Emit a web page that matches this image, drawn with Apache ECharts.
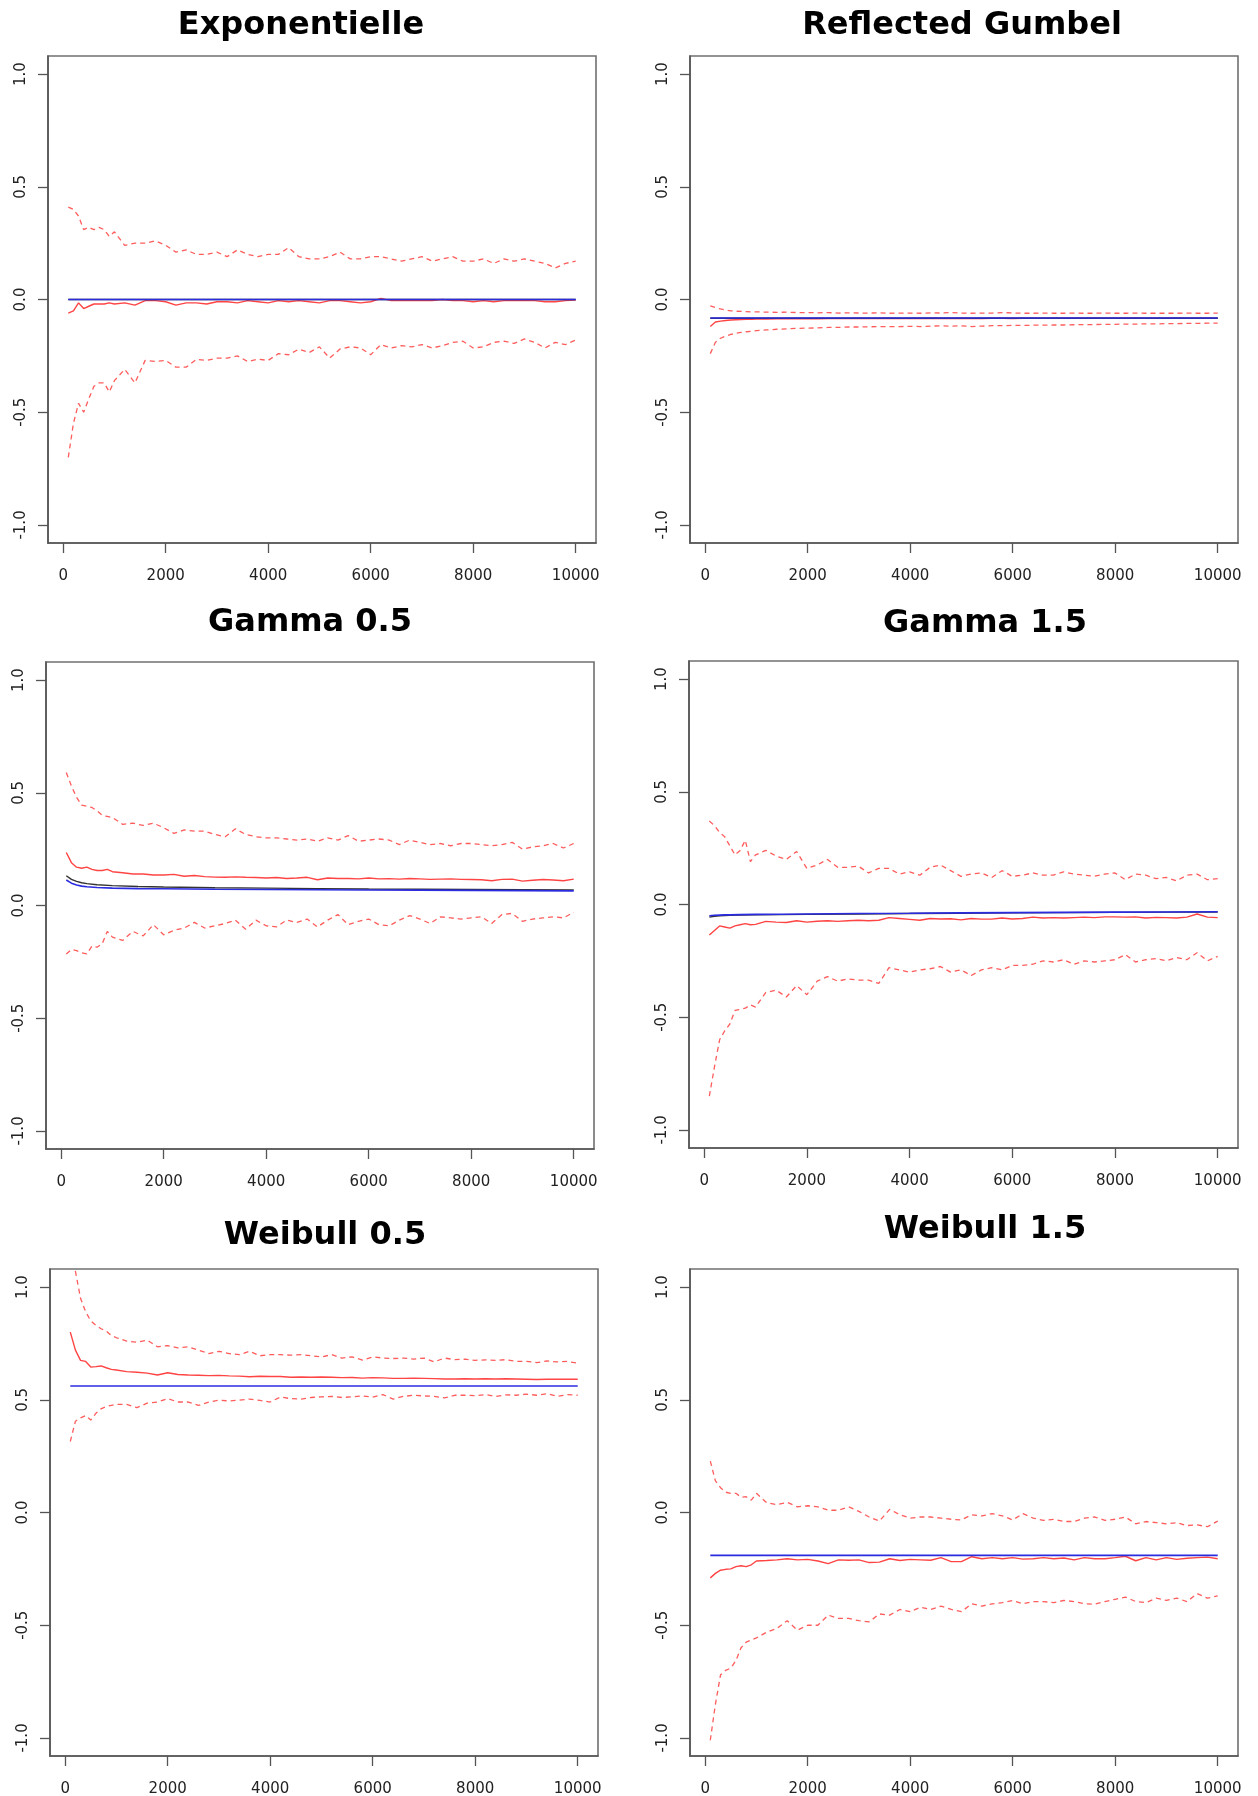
<!DOCTYPE html>
<html><head><meta charset="utf-8">
<script src="https://cdn.jsdelivr.net/npm/echarts@6/dist/echarts.min.js"></script>
<style>html,body{margin:0;padding:0;background:#fff}#c{width:1258px;height:1796px}</style>
</head><body><div id="c"></div>
<script>
// ---------- data ----------
const xs = [100,200,300,400,500,600,700,800,900,1000,
 1200,1400,1600,1800,2000,2200,2400,2600,2800,3000,
 3200,3400,3600,3800,4000,4200,4400,4600,4800,5000,
 5200,5400,5600,5800,6000,6200,6400,6600,6800,7000,
 7200,7400,7600,7800,8000,8200,8400,8600,8800,9000,
 9200,9400,9600,9800,10000];
const xEnds = [100, 10000];
const curveX = [100,200,300,400,500,700,1000,1500,2000,3000,4000,5000,6000,7000,8000,9000,10000];
const xTicks = [0,2000,4000,6000,8000,10000];
const yTicks = [-1,-0.5,0,0.5,1];

const panelTitles = ['Exponentielle','Reflected Gumbel','Gamma 0.5','Gamma 1.5','Weibull 0.5','Weibull 1.5'];

// Exponentielle
const expUpper = [0.41,0.40,0.37,0.31,0.32,0.31,0.32,0.31,0.28,0.30,
 0.24,0.25,0.25,0.26,0.24,0.21,0.22,0.20,0.20,0.21,
 0.19,0.22,0.20,0.19,0.20,0.20,0.23,0.19,0.18,0.18,
 0.19,0.21,0.18,0.18,0.19,0.19,0.18,0.17,0.18,0.19,
 0.17,0.18,0.19,0.17,0.17,0.18,0.16,0.18,0.17,0.18,
 0.17,0.16,0.14,0.16,0.17];
const expMean = [-0.06,-0.05,-0.015,-0.04,-0.03,-0.02,-0.02,-0.02,-0.015,-0.02,
 -0.015,-0.025,-0.005,-0.005,-0.01,-0.025,-0.015,-0.015,-0.02,-0.01,
 -0.01,-0.015,-0.005,-0.01,-0.015,-0.005,-0.01,-0.005,-0.01,-0.015,
 -0.005,-0.005,-0.01,-0.015,-0.01,0.005,-0.005,-0.005,-0.005,-0.005,
 -0.005,0,-0.005,-0.005,-0.01,-0.005,-0.01,-0.005,-0.005,-0.005,
 -0.005,-0.01,-0.01,-0.005,-0.002];
const expLower = [-0.70,-0.55,-0.46,-0.50,-0.44,-0.385,-0.37,-0.37,-0.41,-0.36,
 -0.31,-0.37,-0.27,-0.275,-0.27,-0.30,-0.30,-0.265,-0.27,-0.26,
 -0.26,-0.25,-0.275,-0.265,-0.27,-0.24,-0.245,-0.22,-0.235,-0.21,
 -0.26,-0.22,-0.21,-0.215,-0.245,-0.20,-0.215,-0.205,-0.21,-0.20,
 -0.215,-0.205,-0.19,-0.185,-0.215,-0.21,-0.19,-0.185,-0.195,-0.175,
 -0.19,-0.215,-0.19,-0.20,-0.18];
const expTheo = [0, 0];
const expBlack = [0, 0];

// Reflected Gumbel
const gumUpper = [-0.028,-0.036,-0.042,-0.047,-0.05,-0.052,-0.053,-0.054,-0.055,-0.055,
 -0.056,-0.057,-0.056,-0.058,-0.058,-0.059,-0.058,-0.06,-0.059,-0.06,
 -0.06,-0.059,-0.061,-0.06,-0.06,-0.061,-0.059,-0.06,-0.058,-0.06,
 -0.061,-0.06,-0.06,-0.058,-0.06,-0.061,-0.061,-0.06,-0.061,-0.061,
 -0.06,-0.061,-0.061,-0.06,-0.061,-0.061,-0.06,-0.061,-0.061,-0.061,
 -0.061,-0.06,-0.061,-0.061,-0.06];
const gumMean = [-0.12,-0.10,-0.096,-0.093,-0.091,-0.09,-0.089,-0.088,-0.088,-0.087,
 -0.087,-0.086,-0.086,-0.086,-0.085,-0.086,-0.085,-0.085,-0.085,-0.084,
 -0.085,-0.084,-0.084,-0.085,-0.084,-0.084,-0.083,-0.084,-0.084,-0.083,
 -0.084,-0.084,-0.083,-0.083,-0.084,-0.083,-0.083,-0.083,-0.083,-0.083,
 -0.083,-0.083,-0.082,-0.083,-0.083,-0.083,-0.082,-0.083,-0.083,-0.083,
 -0.082,-0.083,-0.083,-0.083,-0.083];
const gumLower = [-0.24,-0.19,-0.172,-0.162,-0.155,-0.15,-0.146,-0.143,-0.141,-0.138,
 -0.135,-0.132,-0.13,-0.128,-0.127,-0.126,-0.124,-0.124,-0.122,-0.122,
 -0.121,-0.12,-0.12,-0.12,-0.119,-0.12,-0.118,-0.117,-0.118,-0.117,
 -0.12,-0.118,-0.116,-0.116,-0.115,-0.115,-0.114,-0.114,-0.113,-0.113,
 -0.112,-0.111,-0.111,-0.11,-0.11,-0.109,-0.109,-0.108,-0.108,-0.107,
 -0.107,-0.106,-0.106,-0.105,-0.105];
const gumTheo = [-0.082, -0.082];
const gumBlack = [-0.083, -0.083];

// Gamma 0.5
const g05Upper = [0.59,0.53,0.48,0.445,0.44,0.435,0.42,0.40,0.395,0.39,
 0.36,0.365,0.355,0.365,0.345,0.32,0.335,0.33,0.33,0.315,
 0.305,0.34,0.315,0.305,0.30,0.30,0.295,0.29,0.295,0.285,
 0.30,0.29,0.31,0.285,0.29,0.295,0.29,0.27,0.29,0.28,
 0.27,0.275,0.265,0.275,0.275,0.27,0.265,0.27,0.28,0.25,
 0.26,0.265,0.275,0.255,0.275];
const g05Mean = [0.235,0.19,0.17,0.165,0.17,0.16,0.155,0.155,0.16,0.15,
 0.145,0.14,0.14,0.135,0.135,0.138,0.13,0.133,0.128,0.126,
 0.125,0.127,0.125,0.124,0.122,0.124,0.12,0.122,0.125,0.114,
 0.122,0.12,0.12,0.118,0.122,0.118,0.119,0.117,0.12,0.118,
 0.116,0.117,0.118,0.116,0.115,0.114,0.11,0.116,0.117,0.108,
 0.112,0.115,0.113,0.11,0.117];
const g05Lower = [-0.215,-0.195,-0.20,-0.21,-0.215,-0.18,-0.185,-0.17,-0.115,-0.14,
 -0.155,-0.115,-0.135,-0.085,-0.13,-0.11,-0.10,-0.075,-0.10,-0.09,
 -0.08,-0.065,-0.105,-0.065,-0.09,-0.095,-0.065,-0.075,-0.06,-0.095,
 -0.065,-0.04,-0.085,-0.07,-0.06,-0.085,-0.09,-0.065,-0.045,-0.06,
 -0.08,-0.05,-0.055,-0.06,-0.055,-0.05,-0.08,-0.04,-0.035,-0.07,
 -0.06,-0.055,-0.05,-0.055,-0.03];
const g05Theo = [0.113,0.099,0.091,0.086,0.083,0.080,0.077,0.075,0.074,0.072,0.071,0.070,0.069,0.068,0.067,0.066,0.065];
const g05Black = [0.132,0.116,0.107,0.101,0.097,0.092,0.088,0.084,0.082,0.079,0.077,0.075,0.073,0.072,0.071,0.070,0.069];

// Gamma 1.5
const g15Upper = [0.37,0.35,0.32,0.30,0.26,0.22,0.24,0.285,0.19,0.22,
 0.24,0.215,0.20,0.235,0.16,0.175,0.20,0.165,0.165,0.17,
 0.14,0.16,0.16,0.135,0.145,0.13,0.165,0.175,0.15,0.125,
 0.135,0.14,0.12,0.15,0.125,0.13,0.14,0.13,0.13,0.145,
 0.135,0.13,0.125,0.135,0.14,0.11,0.135,0.13,0.115,0.12,
 0.105,0.13,0.135,0.11,0.115];
const g15Mean = [-0.135,-0.115,-0.095,-0.10,-0.105,-0.095,-0.09,-0.085,-0.09,-0.088,
 -0.075,-0.078,-0.08,-0.072,-0.078,-0.074,-0.072,-0.075,-0.072,-0.07,
 -0.072,-0.07,-0.058,-0.062,-0.066,-0.07,-0.062,-0.064,-0.063,-0.068,
 -0.062,-0.065,-0.065,-0.06,-0.064,-0.062,-0.056,-0.06,-0.058,-0.06,
 -0.058,-0.056,-0.058,-0.055,-0.055,-0.056,-0.055,-0.06,-0.057,-0.058,
 -0.06,-0.056,-0.042,-0.056,-0.058];
const g15Lower = [-0.85,-0.72,-0.60,-0.56,-0.53,-0.47,-0.465,-0.46,-0.445,-0.455,
 -0.39,-0.38,-0.41,-0.36,-0.40,-0.34,-0.32,-0.34,-0.33,-0.335,
 -0.335,-0.35,-0.28,-0.29,-0.30,-0.29,-0.285,-0.275,-0.30,-0.29,
 -0.315,-0.29,-0.28,-0.29,-0.27,-0.27,-0.265,-0.25,-0.255,-0.245,
 -0.265,-0.25,-0.255,-0.25,-0.245,-0.222,-0.255,-0.245,-0.24,-0.25,
 -0.235,-0.245,-0.214,-0.25,-0.23];
const g15Theo = [-0.050,-0.048,-0.047,-0.046,-0.046,-0.045,-0.044,-0.043,-0.042,-0.040,-0.039,-0.037,-0.036,-0.035,-0.034,-0.033,-0.032];
const g15Black = [-0.056,-0.052,-0.050,-0.049,-0.048,-0.047,-0.046,-0.045,-0.044,-0.042,-0.040,-0.039,-0.037,-0.036,-0.035,-0.034,-0.033];

// Weibull 0.5
const w05Upper = [1.35,1.07,0.95,0.89,0.85,0.83,0.815,0.805,0.785,0.775,
 0.76,0.755,0.765,0.735,0.74,0.73,0.735,0.72,0.705,0.715,
 0.705,0.70,0.715,0.695,0.70,0.70,0.698,0.70,0.695,0.69,
 0.70,0.685,0.69,0.676,0.69,0.685,0.683,0.685,0.68,0.685,
 0.668,0.685,0.678,0.68,0.675,0.677,0.675,0.678,0.67,0.67,
 0.665,0.672,0.668,0.67,0.662];
const w05Mean = [0.80,0.72,0.675,0.67,0.645,0.647,0.65,0.642,0.635,0.632,
 0.625,0.622,0.618,0.61,0.62,0.612,0.61,0.609,0.607,0.608,
 0.606,0.605,0.602,0.604,0.603,0.603,0.60,0.601,0.60,0.601,
 0.60,0.598,0.599,0.596,0.598,0.597,0.595,0.595,0.596,0.595,
 0.594,0.592,0.592,0.593,0.592,0.593,0.592,0.593,0.592,0.591,
 0.59,0.591,0.591,0.591,0.591];
const w05Lower = [0.315,0.405,0.42,0.43,0.41,0.44,0.46,0.47,0.475,0.48,
 0.48,0.465,0.485,0.49,0.505,0.49,0.49,0.475,0.49,0.498,
 0.495,0.498,0.503,0.497,0.49,0.512,0.505,0.503,0.51,0.513,
 0.515,0.51,0.513,0.517,0.512,0.523,0.503,0.515,0.52,0.517,
 0.515,0.508,0.52,0.52,0.518,0.523,0.515,0.522,0.52,0.525,
 0.52,0.527,0.515,0.523,0.52];
const w05Theo = [0.561, 0.561];

// Weibull 1.5
const w15Upper = [0.228,0.14,0.11,0.09,0.085,0.085,0.068,0.07,0.055,0.085,
 0.043,0.035,0.045,0.025,0.03,0.025,0.01,0.01,0.025,0.005,
 -0.02,-0.038,0.014,-0.01,-0.025,-0.02,-0.02,-0.025,-0.03,-0.033,
 -0.01,-0.015,-0.005,-0.015,-0.033,-0.005,-0.025,-0.035,-0.03,-0.04,
 -0.04,-0.025,-0.02,-0.035,-0.03,-0.02,-0.05,-0.04,-0.045,-0.05,
 -0.045,-0.058,-0.055,-0.063,-0.038];
const w15Mean = [-0.29,-0.27,-0.256,-0.252,-0.25,-0.24,-0.236,-0.24,-0.232,-0.215,
 -0.213,-0.21,-0.205,-0.21,-0.208,-0.215,-0.227,-0.21,-0.212,-0.21,
 -0.222,-0.22,-0.205,-0.213,-0.208,-0.21,-0.212,-0.20,-0.218,-0.218,
 -0.196,-0.205,-0.20,-0.205,-0.20,-0.207,-0.205,-0.20,-0.205,-0.202,
 -0.21,-0.20,-0.205,-0.205,-0.20,-0.194,-0.214,-0.20,-0.21,-0.20,
 -0.208,-0.203,-0.20,-0.198,-0.205];
const w15Lower = [-1.01,-0.85,-0.72,-0.70,-0.69,-0.657,-0.60,-0.575,-0.565,-0.556,
 -0.531,-0.514,-0.48,-0.522,-0.50,-0.50,-0.455,-0.47,-0.47,-0.48,
 -0.485,-0.45,-0.455,-0.43,-0.44,-0.42,-0.43,-0.415,-0.43,-0.44,
 -0.405,-0.415,-0.405,-0.40,-0.39,-0.405,-0.395,-0.395,-0.40,-0.39,
 -0.395,-0.405,-0.407,-0.395,-0.385,-0.375,-0.395,-0.40,-0.38,-0.39,
 -0.38,-0.395,-0.36,-0.38,-0.37];
const w15Theo = [-0.19, -0.19];

// ---------- layout (positions / styles only) ----------
const layout = [
  {titleX:301, titleTop:10,   grid:[48,56,548,487]},
  {titleX:962, titleTop:10,   grid:[690,56,548,487]},
  {titleX:310, titleTop:607,  grid:[46,662,548,487]},
  {titleX:985, titleTop:608,  grid:[689,661,549,487]},
  {titleX:325, titleTop:1220, grid:[50,1269,548,487]},
  {titleX:985, titleTop:1214, grid:[690,1269,548,487]}
];

const panelData = [
  {upper:expUpper, mean:expMean, lower:expLower, theoX:xEnds, theo:expTheo, blackX:xEnds, black:expBlack},
  {upper:gumUpper, mean:gumMean, lower:gumLower, theoX:xEnds, theo:gumTheo, blackX:xEnds, black:gumBlack},
  {upper:g05Upper, mean:g05Mean, lower:g05Lower, theoX:curveX, theo:g05Theo, blackX:curveX, black:g05Black},
  {upper:g15Upper, mean:g15Mean, lower:g15Lower, theoX:curveX, theo:g15Theo, blackX:curveX, black:g15Black},
  {upper:w05Upper, mean:w05Mean, lower:w05Lower, theoX:xEnds, theo:w05Theo},
  {upper:w15Upper, mean:w15Mean, lower:w15Lower, theoX:xEnds, theo:w15Theo}
];

const pairs = (xv, yv) => xv.map((x, i) => [x, yv[i]]);
const FONT = 'DejaVu Sans';

const grids = [], xAxes = [], yAxes = [], series = [], titles = [];
layout.forEach((L, i) => {
  titles.push({
    text: panelTitles[i], left: L.titleX, top: L.titleTop, textAlign: 'center', padding: 0,
    textStyle: {fontFamily: FONT, fontWeight: 'bold', fontSize: 32, color: '#000'}
  });
  grids.push({
    left: L.grid[0], top: L.grid[1], width: L.grid[2], height: L.grid[3],
    show: true, borderColor: '#707070', borderWidth: 1.6, backgroundColor: 'transparent',
    containLabel: false, outerBoundsMode: 'none'
  });
  xAxes.push({
    type: 'value', gridIndex: i, min: -296, max: 10396,
    axisLine: {show: true, onZero: false, lineStyle: {color: '#555', width: 1.6}},
    axisTick: {show: true, length: 10, customValues: xTicks, lineStyle: {color: '#555', width: 1.3}},
    axisLabel: {customValues: xTicks, margin: 26, fontFamily: FONT, fontSize: 15, color: '#222',
      formatter: v => String(Math.round(v))},
    splitLine: {show: false}
  });
  yAxes.push({
    type: 'value', gridIndex: i, min: -1.08, max: 1.08,
    axisLine: {show: true, onZero: false, lineStyle: {color: '#555', width: 1.6}},
    axisTick: {show: true, length: 10, customValues: yTicks, lineStyle: {color: '#555', width: 1.3}},
    axisLabel: {customValues: yTicks, rotate: 90, margin: 19, fontFamily: FONT, fontSize: 15, color: '#222',
      formatter: v => Number(v).toFixed(1)},
    splitLine: {show: false}
  });
  const D = panelData[i];
  const base = {type: 'line', xAxisIndex: i, yAxisIndex: i, showSymbol: false, symbol: 'none',
    silent: true, animation: false, clip: true, smooth: false};
  series.push(Object.assign({}, base, {name: 'upper', data: pairs(xs, D.upper), z: 2,
    lineStyle: {color: '#ff5c5c', width: 1.3, type: [5, 4]}}));
  series.push(Object.assign({}, base, {name: 'lower', data: pairs(xs, D.lower), z: 2,
    lineStyle: {color: '#ff5c5c', width: 1.3, type: [5, 4]}}));
  series.push(Object.assign({}, base, {name: 'mean', data: pairs(xs, D.mean), z: 3,
    lineStyle: {color: '#ff4444', width: 1.4}}));
  if (D.black) {
    series.push(Object.assign({}, base, {name: 'ref', data: pairs(D.blackX, D.black), z: 4,
      lineStyle: {color: '#333', width: 1.4}}));
  }
  series.push(Object.assign({}, base, {name: 'theo', data: pairs(D.theoX, D.theo), z: 5,
    lineStyle: {color: '#2b2be0', width: 1.6}}));
});

const chart = echarts.init(document.getElementById('c'), null, {renderer: 'canvas'});
chart.setOption({
  backgroundColor: '#fff',
  animation: false,
  title: titles,
  grid: grids,
  xAxis: xAxes,
  yAxis: yAxes,
  series: series
});
</script>
</body></html>
